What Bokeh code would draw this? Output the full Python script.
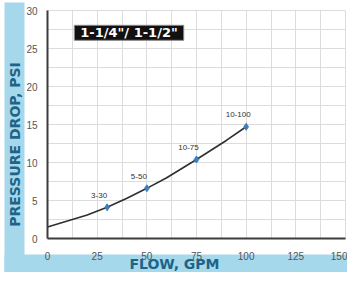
import math
from bokeh.plotting import figure
from bokeh.models import (SingleIntervalTicker, BoxAnnotation, Label, ColumnDataSource,
                          LabelSet, Range1d, Grid)
from bokeh.core.properties import value
from bokeh.embed import file_html
from bokeh.resources import INLINE

# data
flow_pts = [30, 50, 75, 100]
psi_pts = [4.1, 6.6, 10.4, 14.7]
pt_labels = ["3-30", "5-50", "10-75", "10-100"]
curve_flow = [0, 10, 20, 30, 40, 50, 60, 75, 90, 100]
curve_psi = [1.5, 2.3, 3.1, 4.1, 5.3, 6.6, 8.0, 10.4, 12.9, 14.7]
x_min, x_max, x_step = 0, 150, 25
y_min, y_max, y_step = 0, 30, 5
title_text = '1-1/4"/ 1-1/2"'
x_title = "FLOW, GPM"
y_title = "PRESSURE DROP, PSI"

BAND = "#a6d8ec"
LABEL_BLUE = "#1d6488"
FONT = "Liberation Sans"

W, H = 347, 272
# frame geometry (canvas pixels)
fl, fr, ft, fb = 47, 345, 10, 238
sx = (fr - fl) / (x_max - x_min)
sy = (fb - ft) / (y_max - y_min)
xr = Range1d(x_min - fl / sx, x_max + (W - fr) / sx)
yr = Range1d(y_min - (H - fb) / sy, y_max + ft / sy)

p = figure(width=W, height=H, x_range=xr, y_range=yr,
           min_border=0, output_backend="svg", toolbar_location=None)
p.outline_line_color = None
p.background_fill_color = "white"
p.border_fill_color = "white"

# axes fixed at zero
p.xaxis.fixed_location = 0
p.yaxis.fixed_location = 0
p.xaxis.bounds = (x_min, x_max)
p.yaxis.bounds = (y_min, y_max)
for ax in (p.xaxis[0], p.yaxis[0]):
    ax.axis_line_color = "#3c3c3c"
    ax.axis_line_width = 2
    ax.major_tick_line_color = None
    ax.minor_tick_line_color = None
    ax.major_label_text_font = FONT
    ax.major_label_text_font_size = "10px"
    ax.major_label_text_color = "#555555"
p.xaxis.major_label_standoff = 7
p.yaxis.major_label_standoff = 4
p.xaxis.ticker = SingleIntervalTicker(interval=x_step)
p.yaxis.ticker = SingleIntervalTicker(interval=y_step)

p.xgrid.ticker = SingleIntervalTicker(interval=x_step / 2)
p.ygrid.ticker = SingleIntervalTicker(interval=y_step / 2)
p.xgrid.bounds = (x_min, x_max)
p.ygrid.bounds = (y_min, y_max)
has_cross = "cross_bounds" in Grid.properties()
if has_cross:
    p.xgrid.cross_bounds = (y_min, y_max)
    p.ygrid.cross_bounds = (x_min, x_max)
p.grid.grid_line_color = "#dcdcdc"
p.grid.grid_line_width = 1

def sbox(l, r, b, t, color):
    return BoxAnnotation(left=l, right=r, bottom=b, top=t,
                         left_units="screen", right_units="screen",
                         bottom_units="screen", top_units="screen",
                         fill_color=color, fill_alpha=1, line_color=None, level="underlay")

if not has_cross:
    p.add_layout(sbox(0, fl, 0, H, "white"))
    p.add_layout(sbox(0, W, 0, H - fb, "white"))

# blue bands
p.add_layout(sbox(4, 24, 0, 270, BAND))
p.add_layout(sbox(4, W, 0, 18, BAND))

# curve and points
p.line(curve_flow, curve_psi, line_color="#2f2f2f", line_width=1.6)
src = ColumnDataSource(dict(x=flow_pts, y=psi_pts, t=pt_labels))
p.scatter("x", "y", source=src, marker="diamond", size=7, fill_color="#3b7fbf",
          line_color="#3b7fbf")
p.add_layout(LabelSet(x="x", y="y", text="t", source=src, x_offset=-8, y_offset=12,
                      text_align="center", text_baseline="middle",
                      text_font=value(FONT), text_font_size=value("8px"),
                      text_color="#333333"))

# title box
p.add_layout(Label(x=13.5, y=28.05, text=title_text, text_align="left", text_baseline="top",
                   text_font="DejaVu Sans", text_font_style="bold", text_font_size="13px",
                   text_color="white", background_fill_color="#111111",
                   border_line_color="#888888", padding=(6, 0)))

# axis titles on bands
p.add_layout(Label(x=14, y=H - 144, x_units="screen", y_units="screen", text=y_title,
                   angle=math.pi / 2, text_align="center", text_baseline="middle",
                   text_font="DejaVu Sans", text_font_style="bold", text_font_size="14px",
                   text_color=LABEL_BLUE))
p.add_layout(Label(x=174, y=9, x_units="screen", y_units="screen", text=x_title,
                   text_align="center", text_baseline="middle",
                   text_font="DejaVu Sans", text_font_style="bold", text_font_size="14px",
                   text_color=LABEL_BLUE))

open("out.html", "w").write(file_html(p, INLINE))
